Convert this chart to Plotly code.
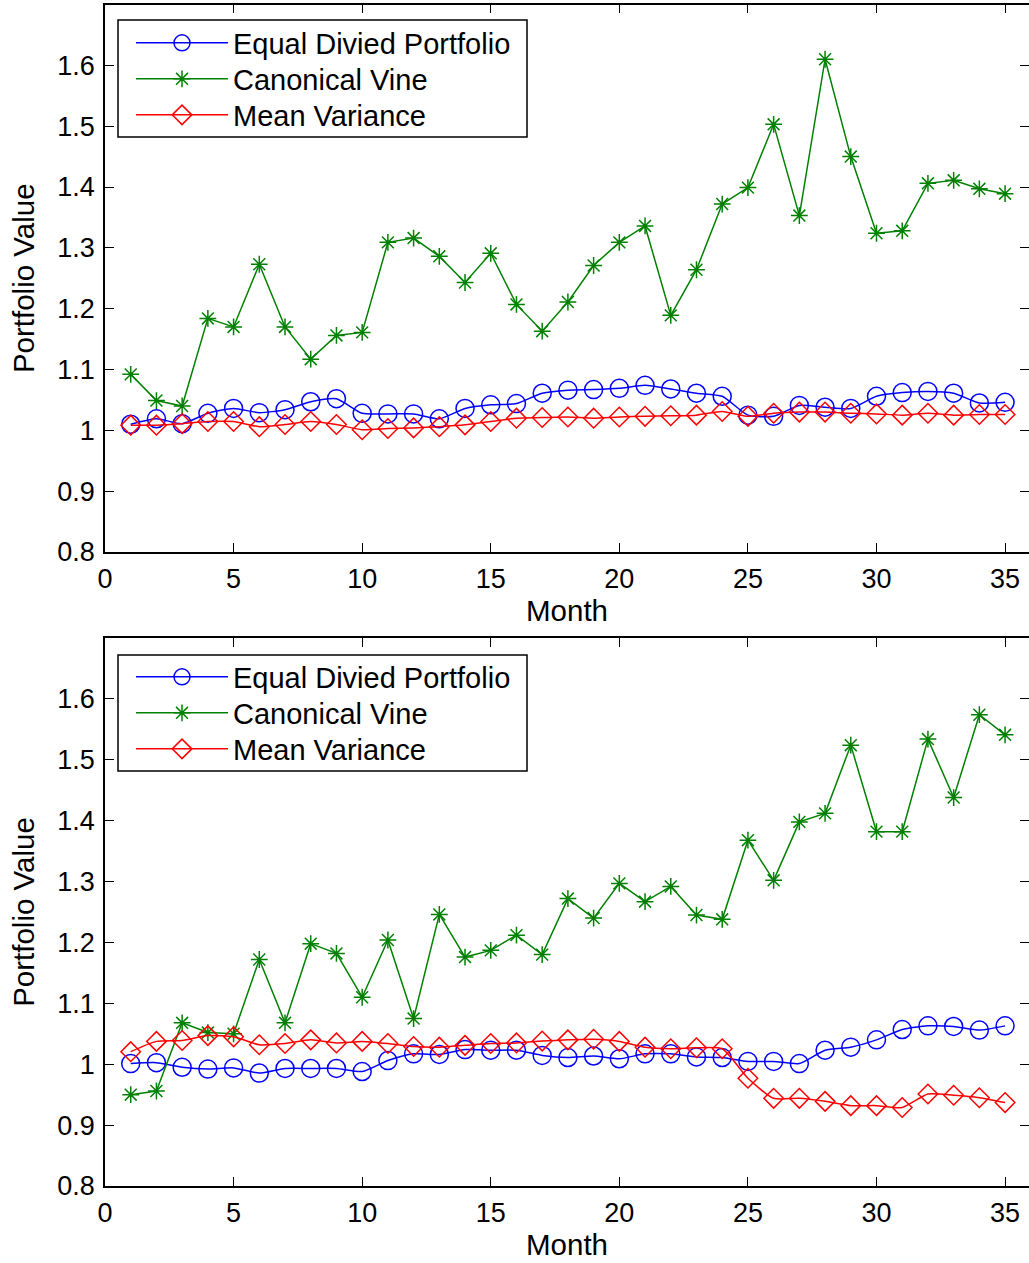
import plotly.graph_objects as go

months = list(range(1, 36))

# Top panel
top_equal = [1.010, 1.019, 1.011, 1.028, 1.036, 1.029, 1.034, 1.047, 1.052, 1.028,
             1.027, 1.027, 1.019, 1.036, 1.042, 1.044, 1.061, 1.066, 1.067, 1.069,
             1.074, 1.068, 1.061, 1.056, 1.025, 1.023, 1.041, 1.038, 1.036, 1.056,
             1.062, 1.064, 1.061, 1.045, 1.046]
top_vine = [1.092, 1.049, 1.040, 1.184, 1.170, 1.273, 1.170, 1.117, 1.156, 1.161,
            1.309, 1.316, 1.286, 1.243, 1.291, 1.207, 1.163, 1.211, 1.271, 1.309,
            1.336, 1.189, 1.264, 1.372, 1.399, 1.503, 1.353, 1.610, 1.450, 1.324,
            1.328, 1.406, 1.411, 1.397, 1.389]
top_mv = [1.0085, 1.0085, 1.011, 1.0145, 1.0145, 1.006, 1.0095, 1.0145, 1.0095, 1.001,
          1.003, 1.004, 1.006, 1.009, 1.0145, 1.020, 1.021, 1.022, 1.020, 1.022,
          1.023, 1.024, 1.025, 1.031, 1.023, 1.028, 1.030, 1.030, 1.028, 1.027,
          1.025, 1.028, 1.025, 1.026, 1.026]

# Bottom panel
bot_equal = [1.001, 1.0025, 0.995, 0.992, 0.994, 0.9855, 0.993, 0.993, 0.993, 0.988,
             1.006, 1.017, 1.016, 1.024, 1.023, 1.023, 1.0145, 1.011, 1.0135, 1.009,
             1.017, 1.017, 1.012, 1.011, 1.0046, 1.0046, 1.001, 1.023, 1.028, 1.040,
             1.057, 1.063, 1.062, 1.056, 1.063]
bot_vine = [0.950, 0.956, 1.068, 1.052, 1.050, 1.172, 1.068, 1.198, 1.182, 1.110,
            1.204, 1.075, 1.246, 1.176, 1.187, 1.212, 1.180, 1.272, 1.240, 1.297,
            1.267, 1.292, 1.245, 1.238, 1.368, 1.302, 1.398, 1.412, 1.524, 1.382,
            1.382, 1.534, 1.438, 1.574, 1.541]
bot_mv = [1.0206, 1.0375, 1.039, 1.047, 1.045, 1.032, 1.034, 1.040, 1.035, 1.0375,
          1.034, 1.029, 1.028, 1.031, 1.034, 1.035, 1.038, 1.040, 1.041, 1.0375,
          1.028, 1.0255, 1.027, 1.0255, 0.977, 0.944, 0.944, 0.939, 0.932, 0.932,
          0.929, 0.951, 0.949, 0.945, 0.937]

x_ticks = [0, 5, 10, 15, 20, 25, 30, 35]
y_ticks = [0.8, 0.9, 1.0, 1.1, 1.2, 1.3, 1.4, 1.5, 1.6]
y_ticktext = ["0.8", "0.9", "1", "1.1", "1.2", "1.3", "1.4", "1.5", "1.6"]
names = ["Equal Divied Portfolio", "Canonical Vine", "Mean Variance"]

BLUE, GREEN, RED = "#0000FF", "#008000", "#FF0000"
FONT = "Arial, Liberation Sans, Helvetica, sans-serif"
FS_TICK = 27
FS_TITLE = 29.5
FS_LEG = 29

H = 1263.0
PLOT_W = 924.0  # plotting width in px (1029 - 105)

fig = go.Figure()

def add_panel(equal, vine, mv, xa, ya, legs):
    fig.add_trace(go.Scatter(
        x=months, y=equal, name=names[0], mode="lines+markers",
        line=dict(color=BLUE, width=1.5, shape="spline", smoothing=0.6),
        marker=dict(symbol="circle-open", size=18, color=BLUE, line=dict(width=1.5, color=BLUE)),
        xaxis=xa, yaxis=ya, legend=legs[0]))
    fig.add_trace(go.Scatter(
        x=months, y=vine, name=names[1], mode="lines+markers",
        line=dict(color=GREEN, width=1.5),
        marker=dict(symbol="asterisk-open", size=14, color=GREEN, line=dict(width=1.5, color=GREEN)),
        xaxis=xa, yaxis=ya, legend=legs[1]))
    fig.add_trace(go.Scatter(
        x=months, y=mv, name=names[2], mode="lines+markers",
        line=dict(color=RED, width=1.5, shape="spline", smoothing=0.6),
        marker=dict(symbol="diamond-open", size=15, color=RED, line=dict(width=1.5, color=RED)),
        xaxis=xa, yaxis=ya, legend=legs[2]))

add_panel(top_equal, top_vine, top_mv, "x", "y", ["legend", "legend2", "legend3"])
add_panel(bot_equal, bot_vine, bot_mv, "x2", "y2", ["legend4", "legend5", "legend6"])

top_dom = [1 - 552 / H, 1 - 4.5 / H]
bot_dom = [1 - 1186 / H, 1 - 638 / H]

def xaxis(anchor):
    return dict(
        anchor=anchor, domain=[0, 1], range=[0, 35.93],
        tickvals=x_ticks, ticks="inside", ticklen=9, tickwidth=1.2, tickcolor="black",
        showline=True, linecolor="black", linewidth=1.5, mirror="ticks",
        showgrid=False, zeroline=False, automargin=False,
        tickfont=dict(family=FONT, size=FS_TICK, color="black"), ticklabelstandoff=2,
        title=dict(text="Month", font=dict(family=FONT, size=FS_TITLE, color="black"), standoff=2),
    )

def yaxis(anchor, dom):
    return dict(
        anchor=anchor, domain=dom, range=[0.8, 1.7],
        tickvals=y_ticks, ticktext=y_ticktext, ticks="inside", ticklen=9, tickwidth=1.2,
        tickcolor="black",
        showline=True, linecolor="black", linewidth=1.5, mirror="ticks",
        showgrid=False, zeroline=False, automargin=False,
        tickfont=dict(family=FONT, size=FS_TICK, color="black"), ticklabelstandoff=3,
        title=dict(text="Portfolio Value", font=dict(family=FONT, size=FS_TITLE, color="black"), standoff=14),
    )

# legend rows (pixel centres) and frames
legend_rows = {"legend": 43, "legend2": 79, "legend3": 115,
               "legend4": 677, "legend5": 713, "legend6": 749}
frames = [(20, 137), (655, 771)]

def legend(row_px):
    return dict(
        x=(131 - 105) / PLOT_W, y=1 - row_px / H, xanchor="left", yanchor="middle",
        bgcolor="rgba(0,0,0,0)", borderwidth=0,
        font=dict(family=FONT, size=FS_LEG, color="black"),
        itemwidth=92, tracegroupgap=0,
    )

shapes = [dict(type="rect", xref="paper", yref="paper",
               x0=(118 - 105) / PLOT_W, x1=(527 - 105) / PLOT_W,
               y0=1 - b / H, y1=1 - t / H,
               line=dict(color="black", width=1.5), fillcolor="white", layer="above")
          for t, b in frames]

layout_legends = {k: legend(v) for k, v in legend_rows.items()}

fig.update_layout(
    width=1029, height=1263,
    margin=dict(l=105, r=0, t=0, b=0, pad=0),
    paper_bgcolor="white", plot_bgcolor="white",
    showlegend=True,
    xaxis=xaxis("y"), yaxis=yaxis("x", top_dom),
    xaxis2=xaxis("y2"), yaxis2=yaxis("x2", bot_dom),
    shapes=shapes,
    **layout_legends,
)

fig.write_html("out.html")
